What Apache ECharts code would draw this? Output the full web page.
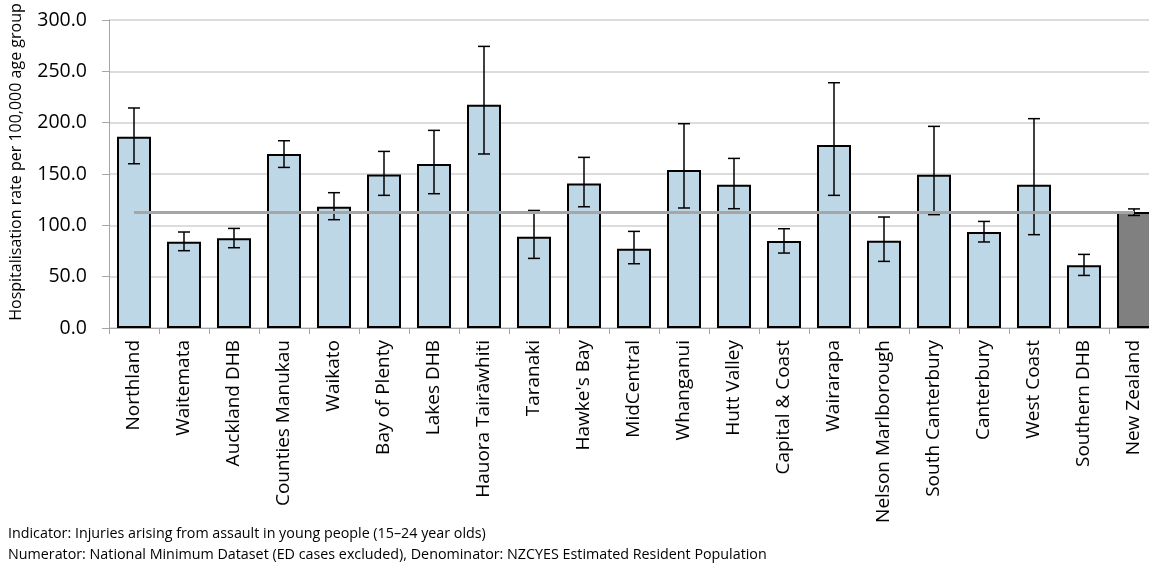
<!DOCTYPE html>
<html>
<head>
<meta charset="utf-8">
<script src="https://cdn.jsdelivr.net/npm/echarts@6/dist/echarts.min.js"></script>
<style>html,body{margin:0;padding:0;background:#fff;overflow:hidden;width:1149px;height:567px}#c{width:1159px;height:567px}</style>
</head>
<body>
<div id="c"></div>
<script>
const categories = ["Northland","Waitemata","Auckland DHB","Counties Manukau","Waikato","Bay of Plenty","Lakes DHB","Hauora Tairāwhiti","Taranaki","Hawke's Bay","MidCentral","Whanganui","Hutt Valley","Capital & Coast","Wairarapa","Nelson Marlborough","South Canterbury","Canterbury","West Coast","Southern DHB","New Zealand"];
const rates = [186.3,84.0,87.3,169.5,118.1,149.6,159.7,217.5,88.9,140.8,77.2,153.9,139.6,84.7,178.2,85.0,149.3,93.5,139.6,61.0,113.0];
const lowerCI = [160.0,75.3,78.2,156.4,105.5,129.2,130.8,169.5,67.8,118.1,62.6,116.9,116.2,73.0,129.2,64.9,110.4,83.8,90.9,51.2,109.6];
const upperCI = [214.3,93.5,97.0,182.4,131.8,172.0,192.5,274.3,114.5,166.2,94.1,199.0,165.2,96.7,238.9,108.1,196.4,103.8,203.9,71.7,116.0];
const nzRate = 112.8;
const yTicks = {min: 0, max: 300, interval: 50};
const noteLines = [
  "Indicator: Injuries arising from assault in young people (15–24 year olds)",
  "Numerator: National Minimum Dataset (ED cases excluded), Denominator: NZCYES Estimated Resident Population"
];
const yAxisTitle = "Hospitalisation rate per 100,000 age group";

const FONT = "'Open Sans', 'Noto Sans', sans-serif";
const chart = echarts.init(document.getElementById('c'), null, {renderer: 'canvas'});

const barData = rates.map((v, i) => ({
  value: v,
  itemStyle: {color: categories[i] === 'New Zealand' ? '#808080' : '#BED7E6'}
}));
const errData = categories.map((c, i) => [i, lowerCI[i], upperCI[i]]);

chart.setOption({
  animation: false,
  textStyle: {fontFamily: FONT},
  grid: {left: 109, top: 20, width: 1050, height: 308, containLabel: false},
  xAxis: {
    type: 'category',
    data: categories,
    axisLine: {lineStyle: {color: '#A6A6A6', width: 1}},
    axisTick: {show: true, length: 6, lineStyle: {color: '#A6A6A6'}, alignWithLabel: false},
    axisLabel: {rotate: 90, interval: 0, margin: 12, color: '#000', fontSize: 19, fontFamily: FONT}
  },
  yAxis: {
    type: 'value',
    min: yTicks.min, max: yTicks.max, interval: yTicks.interval,
    axisLine: {show: true, lineStyle: {color: '#A6A6A6', width: 1}},
    axisTick: {show: true, length: 7, lineStyle: {color: '#A6A6A6'}},
    axisLabel: {color: '#000', fontSize: 19.5, margin: 22, fontFamily: FONT, formatter: v => v.toFixed(1)},
    splitLine: {lineStyle: {color: '#D0D0D0', width: 1.5}}
  },
  series: [
    {
      type: 'bar',
      data: barData,
      barWidth: 34,
      itemStyle: {borderColor: '#000', borderWidth: 2},
      z: 2
    },
    {
      type: 'line',
      data: [],
      markLine: {
        silent: true,
        symbol: 'none',
        label: {show: false},
        lineStyle: {color: '#A6A6A6', width: 3, type: 'solid'},
        data: [[{coord: [categories[0], nzRate]}, {coord: [categories[categories.length - 1], nzRate]}]]
      },
      z: 3
    },
    {
      type: 'custom',
      data: errData,
      z: 4,
      renderItem: function (params, api) {
        const x = api.value(0);
        const lo = api.coord([x, api.value(1)]);
        const hi = api.coord([x, api.value(2)]);
        const hw = 6;
        const style = {stroke: '#000', lineWidth: 1.5};
        return {
          type: 'group',
          children: [
            {type: 'line', shape: {x1: lo[0], y1: lo[1], x2: hi[0], y2: hi[1]}, style: style},
            {type: 'line', shape: {x1: hi[0] - hw, y1: hi[1], x2: hi[0] + hw, y2: hi[1]}, style: style},
            {type: 'line', shape: {x1: lo[0] - hw, y1: lo[1], x2: lo[0] + hw, y2: lo[1]}, style: style}
          ]
        };
      }
    }
  ],
  graphic: [
    {
      type: 'text', x: 16, y: 162, rotation: Math.PI / 2,
      style: {text: yAxisTitle, fill: '#000', font: '16px ' + FONT, textAlign: 'center', textVerticalAlign: 'middle'}
    },
    {
      type: 'text', left: 8, top: 527,
      style: {text: noteLines[0], fill: '#000', font: '14.3px ' + FONT}
    },
    {
      type: 'text', left: 8, top: 548,
      style: {text: noteLines[1], fill: '#000', font: '14.3px ' + FONT}
    }
  ]
});
</script>
</body>
</html>
